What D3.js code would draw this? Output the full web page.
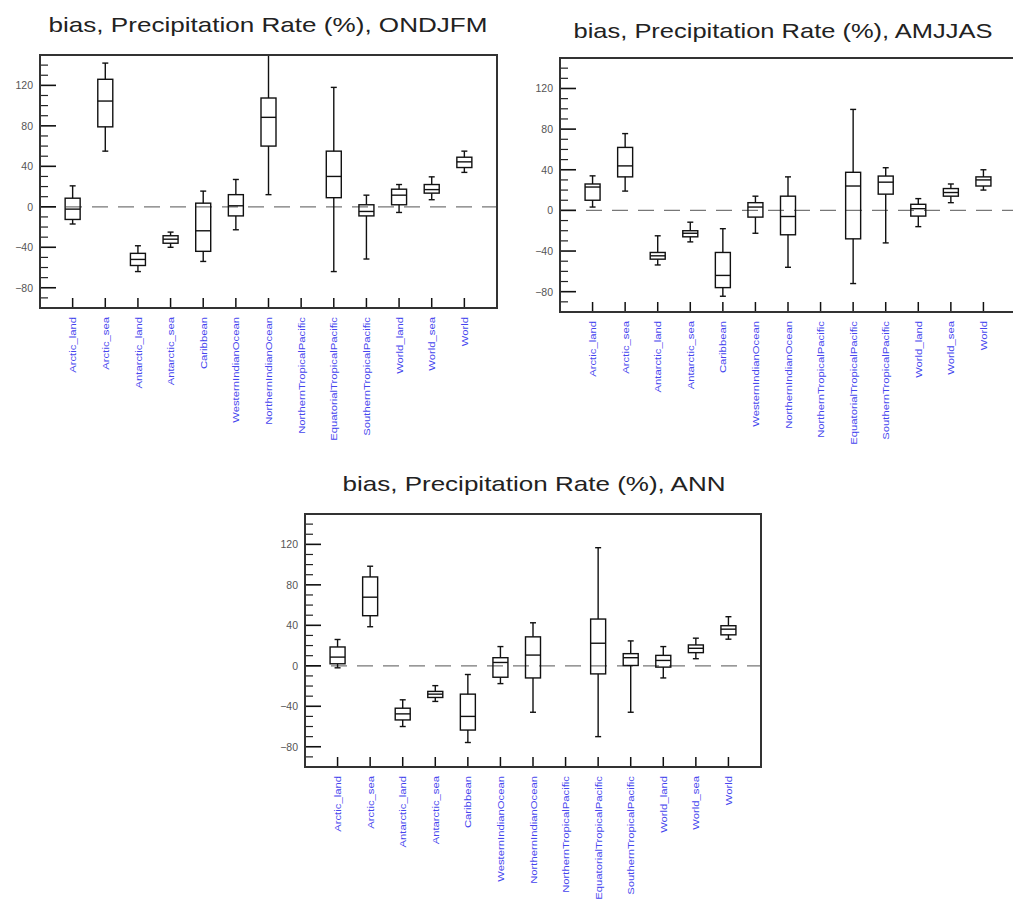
<!DOCTYPE html>
<html>
<head>
<meta charset="utf-8">
<script src="https://cdn.jsdelivr.net/npm/d3@7"></script>
<style>
  html, body { margin: 0; padding: 0; background: #fff; }
  svg { display: block; }
</style>
</head>
<body>
<svg id="chart" width="1013" height="904"></svg>
<script>
// ---- Data ----
const categories = ["Arctic_land", "Arctic_sea", "Antarctic_land", "Antarctic_sea", "Caribbean",
  "WesternIndianOcean", "NorthernIndianOcean", "NorthernTropicalPacific", "EquatorialTropicalPacific",
  "SouthernTropicalPacific", "World_land", "World_sea", "World"];

const yTickValues = [-80, -40, 0, 40, 80, 120];

// [whisker low, Q1, median, Q3, whisker high]; null = no data
const ondjfm = [
  [-17, -12.5, -2.3, 8.5, 20.7],
  [55, 79, 104.5, 126, 142],
  [-64, -58, -52, -46, -38.5],
  [-40, -36, -32, -28.6, -25],
  [-54, -44, -23.7, 3.6, 15.5],
  [-22.7, -9, 1, 12, 27],
  [12, 60, 88.4, 107.5, 160],
  null,
  [-64, 9, 30, 55, 118],
  [-51.6, -9, -4.6, 2, 11.5],
  [-5.6, 2, 11.5, 17.4, 22],
  [7, 13.5, 17, 22, 29.6],
  [34, 38.8, 44.4, 49, 55]
];

const amjjas = [
  [3.3, 10, 23, 26, 34],
  [19, 33, 43.8, 62, 75.6],
  [-53.7, -48, -44.7, -41.4, -25],
  [-31, -26, -22.5, -20, -11.6],
  [-84.5, -76, -64, -41.4, -18],
  [-22.5, -6.6, 3.3, 7.6, 14],
  [-56, -24, -6, 14, 33],
  null,
  [-72, -28, 24, 37.5, 99.4],
  [-32, 16, 27.8, 33.8, 42],
  [-16, -5.6, 1.7, 6, 11.6],
  [7.6, 14, 17.6, 21.5, 26],
  [20, 24, 30, 33, 40]
];

const ann = [
  [-2, 2, 8.6, 18.6, 26],
  [38.6, 49.5, 67.8, 87.8, 98.4],
  [-60, -53.5, -47.5, -41.9, -33.6],
  [-35.2, -31.3, -28, -25.3, -19.6],
  [-75.8, -63.5, -50, -28, -8.6],
  [-17.6, -11.3, 3.3, 8, 19],
  [-45.9, -12, 10.6, 28.6, 42.5],
  null,
  [-70, -8, 22.3, 46.2, 116.7],
  [-45.9, 0.3, 8, 12, 24.6],
  [-12, -1.3, 5.3, 10.3, 19],
  [7, 13, 17.3, 20.6, 27.3],
  [26.3, 30.6, 36.2, 39.6, 48.5]
];

const titles = ["bias, Precipitation Rate (%), ONDJFM", "bias, Precipitation Rate (%), AMJJAS", "bias, Precipitation Rate (%), ANN"];

// ---- Drawing ----
const svg = d3.select("#chart");
const FONT = "Liberation Sans, Arial, sans-serif";

function drawPanel(cfg, data, title, idx) {
  const { x0, x1, y0, y1, titleX, titleY, titleLen } = cfg;
  const g = svg.append("g");

  const x = d3.scalePoint().domain(categories).range([x0, x1]).padding(1);
  const y = d3.scaleLinear().domain([-100, 150]).range([y1, y0]);

  const clipId = "clip" + idx;
  svg.append("clipPath").attr("id", clipId)
    .append("rect").attr("x", x0).attr("y", y0).attr("width", x1 - x0).attr("height", y1 - y0);

  // title
  g.append("text").attr("x", titleX).attr("y", titleY)
    .attr("text-anchor", "middle")
    .attr("font-family", FONT)
    .attr("font-size", 21).attr("fill", "#222")
    .attr("textLength", titleLen).attr("lengthAdjust", "spacingAndGlyphs")
    .text(title);

  // zero dashed line
  g.append("line")
    .attr("x1", x0).attr("x2", x1).attr("y1", y(0)).attr("y2", y(0))
    .attr("stroke", "#777").attr("stroke-width", 1.3)
    .attr("stroke-dasharray", "16,10");

  // minor y ticks
  const minor = d3.range(-90, 150, 10).filter(v => !yTickValues.includes(v));
  g.selectAll(".minor").data(minor).join("line")
    .attr("x1", x0).attr("x2", x0 + 8).attr("y1", d => y(d)).attr("y2", d => y(d))
    .attr("stroke", "#222").attr("stroke-width", 1.2);

  // major y ticks
  const yAxis = d3.axisLeft(y).tickValues(yTickValues).tickSize(0).tickPadding(7);
  const ya = g.append("g").attr("transform", `translate(${x0},0)`).call(yAxis);
  ya.select(".domain").remove();
  ya.selectAll("text").attr("font-family", FONT)
    .attr("font-size", 10.5).attr("fill", "#555");
  g.selectAll(".major").data(yTickValues).join("line")
    .attr("x1", x0).attr("x2", x0 + 16).attr("y1", d => y(d)).attr("y2", d => y(d))
    .attr("stroke", "#111").attr("stroke-width", 1.6);

  // x ticks + labels
  const xAxis = d3.axisBottom(x).tickSize(0).tickPadding(0);
  const xa = g.append("g").attr("transform", `translate(0,${y1})`).call(xAxis);
  xa.select(".domain").remove();
  xa.selectAll("text")
    .attr("font-family", FONT)
    .attr("font-size", 11.3).attr("fill", "#4545ee")
    .attr("text-anchor", "end")
    .attr("dy", "0.32em")
    .attr("transform", "translate(0,9) rotate(-90) scale(1,0.85)");
  g.selectAll(".xtick").data(categories).join("line")
    .attr("x1", d => x(d)).attr("x2", d => x(d)).attr("y1", y1).attr("y2", y1 - 10)
    .attr("stroke", "#111").attr("stroke-width", 1.5);

  // boxes
  const boxW = 15, capW = 6;
  const bg = g.append("g").attr("clip-path", `url(#${clipId})`);
  const items = categories.map((c, i) => ({ c, v: data[i] })).filter(d => d.v);
  const bx = bg.selectAll(".box").data(items).join("g")
    .attr("stroke", "#111").attr("stroke-width", 1.4).attr("fill", "none");
  bx.append("line").attr("x1", d => x(d.c)).attr("x2", d => x(d.c))
    .attr("y1", d => y(d.v[0])).attr("y2", d => y(d.v[1]));
  bx.append("line").attr("x1", d => x(d.c)).attr("x2", d => x(d.c))
    .attr("y1", d => y(d.v[3])).attr("y2", d => y(d.v[4]));
  bx.append("line").attr("x1", d => x(d.c) - capW / 2).attr("x2", d => x(d.c) + capW / 2)
    .attr("y1", d => y(d.v[0])).attr("y2", d => y(d.v[0]));
  bx.append("line").attr("x1", d => x(d.c) - capW / 2).attr("x2", d => x(d.c) + capW / 2)
    .attr("y1", d => y(d.v[4])).attr("y2", d => y(d.v[4]));
  bx.append("rect").attr("x", d => x(d.c) - boxW / 2).attr("width", boxW)
    .attr("y", d => y(d.v[3])).attr("height", d => y(d.v[1]) - y(d.v[3]));
  bx.append("line").attr("x1", d => x(d.c) - boxW / 2).attr("x2", d => x(d.c) + boxW / 2)
    .attr("y1", d => y(d.v[2])).attr("y2", d => y(d.v[2]));

  // frame
  g.append("rect").attr("x", x0).attr("y", y0).attr("width", x1 - x0).attr("height", y1 - y0)
    .attr("fill", "none").attr("stroke", "#333").attr("stroke-width", 2);
}

drawPanel({ x0: 40, x1: 497, y0: 55, y1: 308, titleX: 268, titleY: 32, titleLen: 439 }, ondjfm, titles[0], 0);
drawPanel({ x0: 560, x1: 1016, y0: 58, y1: 312, titleX: 783, titleY: 38, titleLen: 419 }, amjjas, titles[1], 1);
drawPanel({ x0: 305, x1: 761, y0: 514, y1: 767, titleX: 534, titleY: 491, titleLen: 383 }, ann, titles[2], 2);
</script>
</body>
</html>
